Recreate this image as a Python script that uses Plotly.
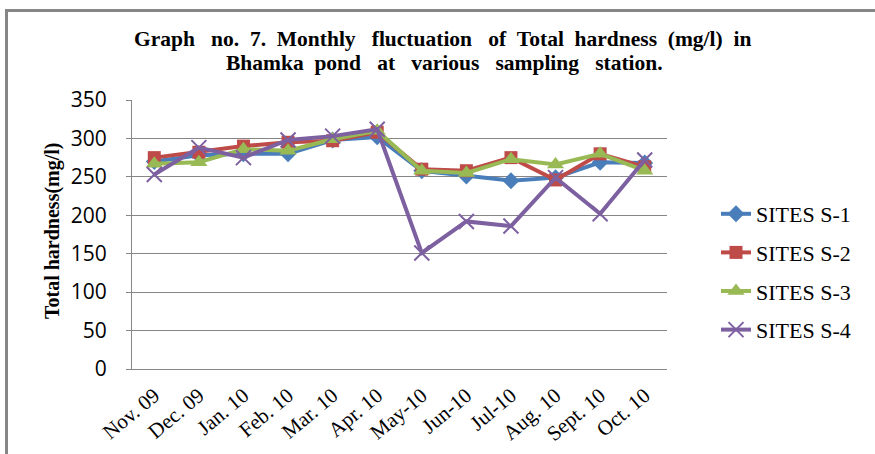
import plotly.graph_objects as go

months = ["Nov. 09", "Dec. 09", "Jan. 10", "Feb. 10", "Mar. 10", "Apr. 10",
          "May-10", "Jun-10", "Jul-10", "Aug. 10", "Sept. 10", "Oct. 10"]

s1 = [270, 278, 280, 280, 298, 302, 258, 251, 245, 249, 269, 268]
s2 = [275, 282, 290, 295, 297, 308, 260, 258, 275, 246, 280, 263]
s3 = [267, 269, 286, 284, 299, 310, 258, 255, 273, 266, 280, 258]
s4 = [253, 288, 275, 298, 303, 312, 151, 192, 186, 249, 202, 272]

series_names = ["SITES S-1", "SITES S-2", "SITES S-3", "SITES S-4"]
colors = ["#4A7EBB", "#BE4B48", "#98B954", "#7D60A0"]
symbols = ["diamond", "square", "triangle-up", "x-thin-open"]
sizes = [13, 13, 15, 15]

fig = go.Figure()
for name, vals, col, sym, sz in zip(series_names, [s1, s2, s3, s4], colors, symbols, sizes):
    fig.add_trace(go.Scatter(
        x=months, y=vals, name=name, mode="lines+markers",
        line=dict(color=col, width=4),
        marker=dict(symbol=sym, size=sz, color=col,
                    line=dict(color=col, width=2 if sym.startswith("x") else 0)),
        legendgroup=name,
    ))

W, H = 875, 454
L, R, T, B = 132, 875 - 667, 100, 454 - 369
pw, ph = W - L - R, H - T - B


def px_x(x):
    return (x - L) / pw


def px_y(y):
    return (H - B - y) / ph


fig.update_layout(
    width=W, height=H,
    margin=dict(l=L, r=R, t=T, b=B),
    paper_bgcolor="white", plot_bgcolor="white",
    showlegend=True,
    legend=dict(
        x=px_x(716), xanchor="left", y=px_y(272), yanchor="middle",
        font=dict(family="Liberation Serif", size=22, color="black"),
        tracegroupgap=7, traceorder="grouped",
        bgcolor="rgba(0,0,0,0)",
    ),
    font=dict(family="Liberation Serif", color="black"),
)

fig.update_xaxes(
    type="category", tickangle=-40,
    tickfont=dict(family="Liberation Serif", size=21, color="black"),
    showline=True, linecolor="#868686", linewidth=1,
    showgrid=False, ticks="", range=[-0.5, 11.5], automargin=False,
    ticklabelstandoff=5,
)
fig.update_yaxes(
    range=[0, 350], dtick=50,
    tickfont=dict(family="Open Sans", size=21, color="black"),
    showline=True, linecolor="#868686", linewidth=1,
    showgrid=True, gridcolor="#868686", gridwidth=1,
    ticks="outside", ticklen=5, tickcolor="#868686",
    ticklabelstandoff=15, zeroline=False, automargin=False,
)

S2 = "\u00a0\u00a0"
S3 = "\u00a0\u00a0\u00a0"
title_lines = [
    "Graph" + S3 + "no." + S2 + "7." + S2 + "Monthly" + S3 + "fluctuation" + S3 + "of" + S2
    + "Total" + S2 + "hardness" + S2 + "(mg/l)" + S2 + "in",
    "Bhamka" + S2 + "pond" + S3 + "at" + S3 + "various" + S3 + "sampling" + S3 + "station.",
]
for txt, xpx, ypx in zip(title_lines, [442, 444], [39, 63]):
    fig.add_annotation(
        text="<b>" + txt + "</b>",
        xref="paper", yref="paper", x=px_x(xpx), y=px_y(ypx),
        xanchor="center", yanchor="middle", showarrow=False,
        font=dict(family="Liberation Serif", size=21.5, color="black"),
    )
fig.add_annotation(
    text="<b>Total hardness(mg/l)</b>",
    xref="paper", yref="paper", x=px_x(52), y=px_y(231),
    xanchor="center", yanchor="middle", showarrow=False, textangle=-90,
    font=dict(family="Liberation Serif", size=20, color="black"),
)

fig.add_shape(
    type="rect", xref="paper", yref="paper",
    x0=px_x(6.5), y0=px_y(10.5), x1=px_x(990), y1=px_y(600),
    line=dict(color="#868686", width=3), layer="below",
)

fig.write_html("out.html", config={"displayModeBar": False},
               post_script="document.body.style.margin='0';")
